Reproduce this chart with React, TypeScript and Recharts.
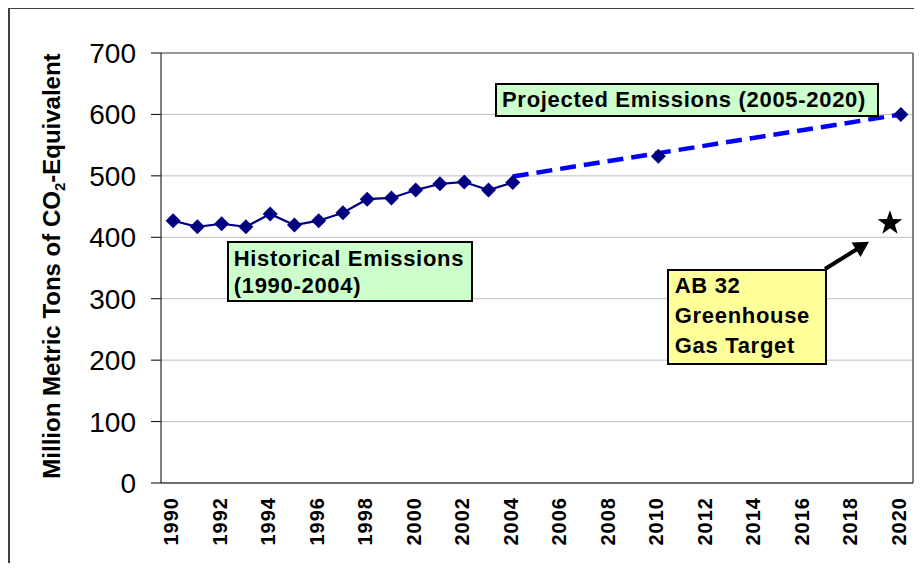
import { LineChart, Line, XAxis, YAxis, CartesianGrid, ReferenceLine, ReferenceDot } from 'recharts';

const years = [
  1990, 1991, 1992, 1993, 1994, 1995, 1996, 1997, 1998, 1999, 2000, 2001, 2002, 2003, 2004,
  2005, 2006, 2007, 2008, 2009, 2010, 2011, 2012, 2013, 2014, 2015, 2016, 2017, 2018, 2019, 2020,
];
// historical inventory 1990-2004
const historical = [427, 417, 422, 417, 438, 420, 427, 440, 462, 464, 477, 487, 490, 477, 489];
// projected trend line (dashed) and its markers
const projectedYears = [2004, 2010, 2020];
const projectedLine = [499, 537, 600];
const projectedMarkerYears = [2010, 2020];
const projectedMarkers = [532, 600];
// AB 32 target (star)
const targetYear = 2019.55;
const targetValue = 423;

const yTicks = [0, 100, 200, 300, 400, 500, 600, 700];
const labelYears = years.filter(y => y % 2 === 0);
const boundaries = [...years.map(y => y - 0.5), years[years.length - 1] + 0.5];

const data = years.map((year, i) => {
  const p = projectedYears.indexOf(year);
  const m = projectedMarkerYears.indexOf(year);
  return {
    year,
    hist: i < historical.length ? historical[i] : null,
    proj: p >= 0 ? projectedLine[p] : null,
    projMark: m >= 0 ? projectedMarkers[m] : null,
  };
});

const FONT = '"Liberation Sans", Arial, Helvetica, sans-serif';
const NAVY = '#000080';

const Diamond = (props: any) => {
  const { cx, cy, value, index } = props;
  if (value == null || cx == null || cy == null) return <g key={`d-${index}`} />;
  const r = 7.5;
  return (
    <path
      key={`d-${index}`}
      d={`M${cx},${cy - r} L${cx + r},${cy} L${cx},${cy + r} L${cx - r},${cy} Z`}
      fill={NAVY}
    />
  );
};

const Star = (props: any) => {
  const { cx, cy } = props;
  const outer = 13;
  const inner = 5.2;
  const pts: string[] = [];
  for (let i = 0; i < 10; i++) {
    const r = i % 2 === 0 ? outer : inner;
    const a = -Math.PI / 2 + (i * Math.PI) / 5;
    pts.push(`${cx + r * Math.cos(a)},${cy + r * Math.sin(a)}`);
  }
  return <polygon points={pts.join(' ')} fill="#000" />;
};

const YearTick = (props: any) => {
  const { x, y, payload } = props;
  const ty = y + 9;
  return (
    <text
      x={x}
      y={ty}
      transform={`rotate(-90, ${x}, ${ty})`}
      textAnchor="end"
      dy={5}
      fontFamily={FONT}
      fontWeight="bold"
      fontSize={20}
      letterSpacing={1}
      fill="#000"
    >
      {payload.value}
    </text>
  );
};

const boxText: React.CSSProperties = {
  position: 'absolute',
  boxSizing: 'border-box',
  border: '2px solid #000',
  fontFamily: FONT,
  fontWeight: 'bold',
  fontSize: 22,
  letterSpacing: 0.7,
  color: '#000',
  whiteSpace: 'nowrap',
  paddingLeft: 5,
};

const App = () => {
  return (
    <div style={{ position: 'relative', width: 914, height: 555 }}>
      <style>{`html, body { overflow: hidden; }`}</style>
      <div
        style={{
          position: 'absolute',
          left: 0,
          top: -1,
          width: 2000,
          height: 2000,
          borderLeft: '2px solid #404040',
          borderTop: '2px solid #404040',
        }}
      />
      <div style={{ position: 'absolute', left: 0, top: 0 }}>
        <LineChart width={914} height={555} data={data} margin={{ top: 45, right: 9, left: 0, bottom: 15 }}>
          <CartesianGrid vertical={false} stroke="#C0C0C0" strokeWidth={1} />
          <XAxis
            dataKey="year"
            type="number"
            domain={[1989.5, 2020.5]}
            allowDataOverflow
            ticks={boundaries}
            tick={false}
            tickSize={5}
            height={5}
            stroke="#000"
            axisLine={{ stroke: '#000' }}
            tickLine={{ stroke: '#000' }}
          />
          <XAxis
            xAxisId="lbl"
            dataKey="year"
            type="number"
            domain={[1989.5, 2020.5]}
            allowDataOverflow
            ticks={labelYears}
            interval={0}
            axisLine={false}
            tickLine={false}
            tickSize={0}
            tickMargin={0}
            height={60}
            tick={<YearTick />}
          />
          <YAxis
            domain={[0, 700]}
            ticks={yTicks}
            width={153}
            tickSize={10}
            tickMargin={15}
            axisLine={{ stroke: '#000' }}
            tickLine={{ stroke: '#000' }}
            tick={{ fontFamily: FONT, fontSize: 28, fill: '#000' }}
            label={{
              content: () => (
                <text
                  x={52}
                  y={258}
                  transform="rotate(-90, 52, 258)"
                  textAnchor="middle"
                  fontFamily={FONT}
                  fontWeight="bold"
                  fontSize={24}
                  fill="#000"
                >
                  Million Metric Tons of CO
                  <tspan fontSize={15} dy={5}>2</tspan>
                  <tspan dy={-5}>-Equivalent</tspan>
                </text>
              ),
            }}
          />
          <ReferenceLine y={700} stroke="#808080" strokeWidth={1.5} />
          <ReferenceLine x={2020.5} stroke="#808080" strokeWidth={2} />
          <Line
            dataKey="proj"
            connectNulls
            stroke="#0000FF"
            strokeWidth={4.5}
            strokeDasharray="16 8"
            dot={false}
            activeDot={false}
            isAnimationActive={false}
          />
          <Line
            dataKey="hist"
            stroke={NAVY}
            strokeWidth={2.2}
            dot={Diamond}
            activeDot={false}
            isAnimationActive={false}
          />
          <Line
            dataKey="projMark"
            stroke="none"
            dot={Diamond}
            activeDot={false}
            isAnimationActive={false}
          />
          <ReferenceDot x={targetYear} y={targetValue} shape={Star} />
        </LineChart>
      </div>
      <svg
        width={914}
        height={555}
        style={{ position: 'absolute', left: 0, top: 0, pointerEvents: 'none' }}
      >
        <line x1={817} y1={261} x2={850} y2={240.5} stroke="#000" strokeWidth={4} />
        <polygon points="861,233.7 843.5,234.5 852.5,249" fill="#000" />
      </svg>
      <div style={{ ...boxText, left: 218.7, top: 233, width: 246, height: 61, background: '#CCFFCC', lineHeight: '27px', paddingTop: 2 }}>
        Historical Emissions
        <br />
        (1990-2004)
      </div>
      <div style={{ ...boxText, left: 487, top: 75, width: 384, height: 34, background: '#CCFFCC', lineHeight: '30px' }}>
        Projected Emissions (2005-2020)
      </div>
      <div style={{ ...boxText, left: 658.7, top: 261.3, width: 160, height: 96, background: '#FFFF99', lineHeight: '30px', paddingLeft: 6 }}>
        AB 32
        <br />
        Greenhouse
        <br />
        Gas Target
      </div>
    </div>
  );
};

export default App;
